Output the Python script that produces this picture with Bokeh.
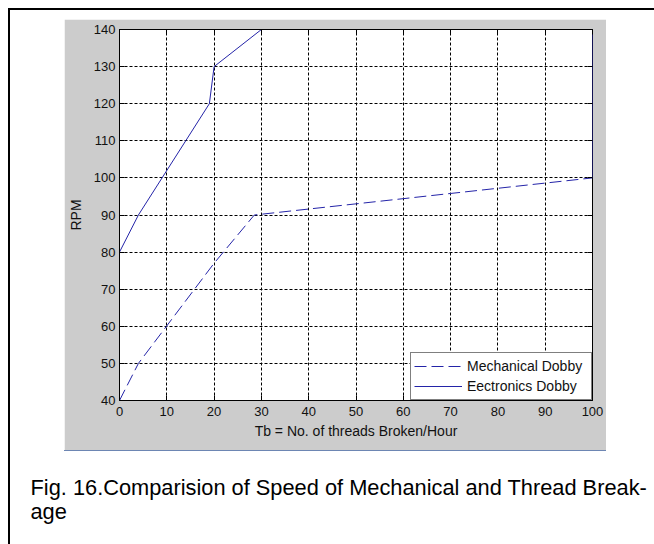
from bokeh.plotting import figure
from bokeh.models import (LinearAxis, Label, Legend, LegendItem, Range1d,
                          CustomJSTickFormatter, Spacer)
from bokeh.layouts import column, row
from bokeh.embed import file_html
from bokeh.resources import INLINE

# ---- data ----
x_mech = [0, 4, 20, 28.5, 100]
y_mech = [40, 50, 77, 90, 100]
x_elec = [0, 0, 4, 19, 20, 30, 100, 100]
y_elec = [40, 80, 90, 120, 130, 140, 140, 100]
x_ticks = [0, 10, 20, 30, 40, 50, 60, 70, 80, 90, 100]
y_ticks = [40, 50, 60, 70, 80, 90, 100, 110, 120, 130, 140]
series_names = ["Mechanical Dobby", "Eectronics Dobby"]
x_label = "Tb = No. of threads Broken/Hour"
y_label = "RPM"
caption_lines = ["Fig. 16.Comparision of Speed of Mechanical and Thread Break-", "age"]

FONT = "Liberation Sans"
LINE_COLOR = "#2424a8"
GRAY = "#cccccc"

# ---- chart (gray MATLAB-like figure panel) ----
p = figure(width=542, height=431, output_backend="svg", toolbar_location=None,
           x_range=Range1d(0, 100), y_range=Range1d(40, 140),
           min_border_left=55, min_border_right=14, min_border_top=10,
           min_border_bottom=50)
p.border_fill_color = GRAY
p.background_fill_color = "white"
p.outline_line_color = "black"
p.outline_line_width = 1

for g, t in ((p.xgrid, x_ticks), (p.ygrid, y_ticks)):
    g.ticker = t
    g.grid_line_color = "black"
    g.grid_line_dash = "3 2"
    g.grid_line_width = 1


def style_axis(ax, ticks):
    ax.ticker = ticks
    ax.major_tick_in = 5
    ax.major_tick_out = 0
    ax.minor_tick_line_color = None
    ax.axis_line_color = "black"
    ax.major_tick_line_color = "black"
    ax.major_label_text_font = FONT
    ax.major_label_text_font_size = "13px"
    ax.major_label_text_color = "#111111"
    ax.axis_label_text_font = FONT
    ax.axis_label_text_font_size = "14px"
    ax.axis_label_text_font_style = "normal"
    ax.axis_label_text_color = "#111111"


style_axis(p.xaxis[0], x_ticks)
style_axis(p.yaxis[0], y_ticks)
p.xaxis[0].axis_label = x_label
p.yaxis[0].axis_label = y_label
p.xaxis[0].major_label_standoff = 6
p.yaxis[0].major_label_standoff = 4
p.xaxis[0].axis_label_standoff = 4
p.yaxis[0].axis_label_standoff = 7

blank = CustomJSTickFormatter(code="return ''")
top_ax = LinearAxis(formatter=blank)
right_ax = LinearAxis(formatter=blank)
style_axis(top_ax, x_ticks)
style_axis(right_ax, y_ticks)
right_ax.axis_line_color = None
top_ax.major_label_standoff = 0
right_ax.major_label_standoff = 0
p.add_layout(top_ax, "above")
p.add_layout(right_ax, "right")

r_mech = p.line(x_mech, y_mech, line_color=LINE_COLOR, line_width=1,
                line_dash="12 5")
r_elec = p.line(x_elec, y_elec, line_color=LINE_COLOR, line_width=1)

legend = Legend(items=[LegendItem(label=series_names[0], renderers=[r_mech]),
                       LegendItem(label=series_names[1], renderers=[r_elec])],
                location="bottom_right", margin=0, padding=3, spacing=0,
                glyph_width=48, glyph_height=20, label_height=20,
                label_width=121, label_standoff=5,
                label_text_font=FONT, label_text_font_size="14px",
                label_text_color="#111111",
                border_line_color="black", border_line_width=1,
                background_fill_color="white", background_fill_alpha=1)
p.add_layout(legend, "center")

# ---- caption ----
cap = figure(width=644, height=93, output_backend="svg", toolbar_location=None,
             x_range=Range1d(0, 644), y_range=Range1d(93, 0),
             min_border=0, x_axis_location=None, y_axis_location=None)
cap.outline_line_color = None
cap.border_fill_color = "white"
cap.background_fill_color = "white"
cap.xgrid.visible = False
cap.ygrid.visible = False
for yy, txt in zip([36, 60], caption_lines):
    cap.add_layout(Label(x=20, y=yy, text=txt, text_font=FONT,
                         text_font_size="21.8px", text_color="black",
                         text_baseline="alphabetic", text_align="left"))

# ---- page frame ----
def blk(w, h, color):
    return Spacer(width=w, height=h, styles={"background-color": color})

inner = column(
    Spacer(width=644, height=9),
    row(Spacer(width=54, height=431), p, spacing=0),
    row(Spacer(width=54, height=1), blk(542, 1, "#6d86b3"), spacing=0),
    cap,
    spacing=0,
)
layout = column(
    Spacer(width=654, height=8),
    row(Spacer(width=8, height=2), blk(646, 2, "black"), spacing=0),
    row(Spacer(width=8, height=534), blk(2, 534, "black"), inner, spacing=0),
    spacing=0,
)

open("out.html", "w").write(file_html(layout, INLINE))
